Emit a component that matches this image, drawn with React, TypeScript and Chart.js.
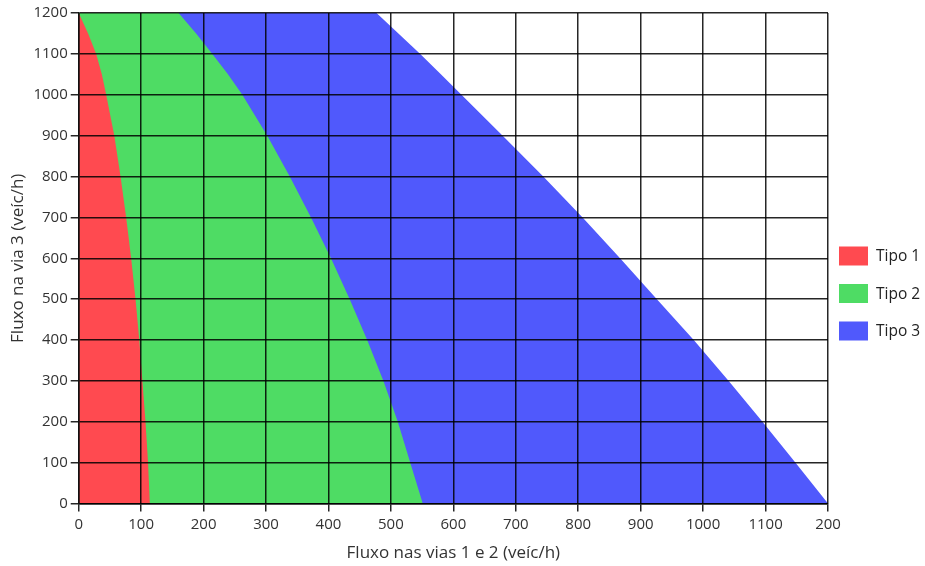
import React, { useEffect, useRef } from "react";
import { Chart, registerables } from "chart.js";

Chart.register(...registerables);

// Vertical flow levels (via 3, veíc/h) at which boundaries were read
const yLevels = [1200, 1150, 1100, 1050, 1000, 900, 800, 700, 600, 500, 400, 300, 200, 100, 0];
// Right-hand boundary (fluxo nas vias 1 e 2) of each region at those levels
const tipo1Edge = [0, 15, 28, 37, 44, 57, 67, 76, 84, 91, 97, 102, 107, 111, 114];
const tipo2Edge = [160, 188, 214, 239, 262, 302, 338, 372, 404, 434, 462, 488, 511, 531, 551];
const tipo3Edge = [477, 512, 547, 580, 613, 679, 744, 807, 867, 926, 985, 1041, 1095, 1148, 1200];

const seriesLabels = ["Tipo 1", "Tipo 2", "Tipo 3"];
const seriesColors = ["#FF4A50", "#4EDC64", "#5059FC"];

const xTickLabels = ["0", "100", "200", "300", "400", "500", "600", "700", "800", "900", "1000", "1100", "200"];
const yTickLabels = ["0", "100", "200", "300", "400", "500", "600", "700", "800", "900", "1000", "1100", "1200"];

const xTitle = "Fluxo nas vias 1 e 2 (veíc/h)";
const yTitle = "Fluxo na via 3 (veíc/h)";

const FONT = "'Open Sans', 'Noto Sans', sans-serif";

function edgePoints(edge: number[]) {
  const pts = yLevels.map((y, i) => ({ x: edge[i], y }));
  if (pts[0].x !== 0) pts.unshift({ x: 0, y: yLevels[0] });
  return pts;
}

const legendPlugin = {
  id: "sideLegend",
  afterDraw(chart: any) {
    const { ctx, chartArea } = chart;
    ctx.save();
    const boxW = 29;
    const boxH = 19;
    const pitch = 37.5;
    const left = chartArea.right + 11;
    const top0 = chartArea.top + 233.5;
    chart.data.datasets.forEach((ds: any, i: number) => {
      const top = top0 + i * pitch;
      ctx.fillStyle = ds.backgroundColor;
      ctx.fillRect(left, top, boxW, boxH);
      ctx.fillStyle = "#222";
      ctx.font = `15.5px ${FONT}`;
      ctx.textBaseline = "middle";
      ctx.textAlign = "left";
      ctx.fillText(ds.label, left + boxW + 8, top + boxH / 2 + 1);
    });
    ctx.restore();
  },
};

export default function App() {
  const canvasRef = useRef<HTMLCanvasElement | null>(null);

  useEffect(() => {
    if (!canvasRef.current) return;
    const edges = [tipo1Edge, tipo2Edge, tipo3Edge];
    const gridColor = "rgba(0,0,0,0.85)";
    const chart = new Chart(canvasRef.current, {
      type: "line",
      data: {
        datasets: edges.map((edge, i) => ({
          label: seriesLabels[i],
          data: edgePoints(edge),
          backgroundColor: seriesColors[i],
          borderColor: seriesColors[i],
          borderWidth: 0,
          pointRadius: 0,
          fill: "origin",
          tension: 0,
        })),
      },
      options: {
        animation: false,
        responsive: true,
        maintainAspectRatio: false,
        layout: { padding: { left: 0, right: 97, top: 13, bottom: 1 } },
        plugins: {
          legend: { display: false },
          tooltip: { enabled: false },
        },
        scales: {
          x: {
            type: "linear",
            min: 0,
            max: 1200,
            ticks: {
              stepSize: 100,
              padding: 4,
              color: "#333",
              font: { family: FONT, size: 15 },
              callback: (v: any) => xTickLabels[Math.round(Number(v) / 100)] ?? "",
              maxRotation: 0,
              autoSkip: false,
              z: 1,
            },
            grid: { color: gridColor, lineWidth: 1.5, tickLength: 8, drawTicks: true, z: 1 },
            border: { color: "#111", width: 1.5, z: 1 },
            title: {
              display: true,
              text: xTitle,
              color: "#333",
              font: { family: FONT, size: 17 },
              padding: { top: 5, bottom: 2 },
            },
          },
          y: {
            type: "linear",
            min: 0,
            max: 1200,
            ticks: {
              stepSize: 100,
              padding: 3,
              color: "#333",
              font: { family: FONT, size: 15 },
              callback: (v: any) => yTickLabels[Math.round(Number(v) / 100)] ?? "",
              autoSkip: false,
              z: 1,
            },
            grid: { color: gridColor, lineWidth: 1.5, tickLength: 8, drawTicks: true, z: 1 },
            border: { color: "#111", width: 1.5, z: 1 },
            title: {
              display: true,
              text: yTitle,
              color: "#333",
              font: { family: FONT, size: 17 },
              padding: { top: 8, bottom: 2 },
            },
          },
        },
      },
      plugins: [legendPlugin],
    } as any);
    return () => chart.destroy();
  }, []);

  return (
    <div style={{ position: "absolute", left: 0, top: 0, width: 925, height: 566, background: "#fff" }}>
      <canvas ref={canvasRef} />
    </div>
  );
}
